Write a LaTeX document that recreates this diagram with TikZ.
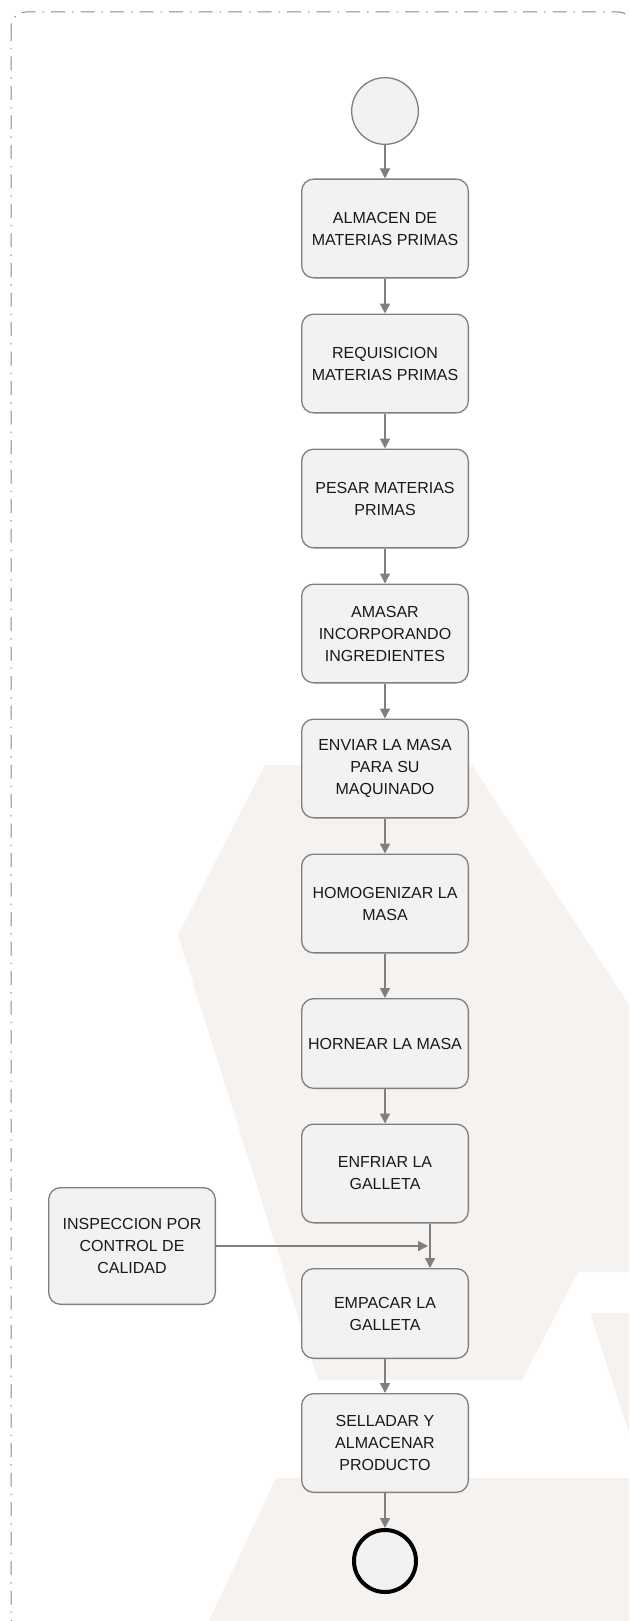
\documentclass[tikz,border=0pt]{standalone}
\usepackage{fontspec}
\setmainfont{Liberation Sans}
\usetikzlibrary{arrows.meta, positioning}

\definecolor{caja}{RGB}{242,242,242}
\definecolor{borde}{RGB}{127,127,127}
\definecolor{marco}{RGB}{135,135,135}
\definecolor{marca}{RGB}{245,242,239}

\begin{document}
\begin{tikzpicture}[
    x=1pt, y=1pt,
    node distance=135pt,
    every node/.style={font=\fontsize{16}{22}\selectfont, align=center, text=black!90},
    paso/.style={rectangle, rounded corners=12pt, draw=borde, line width=1.3pt, fill=caja, minimum width=166.7pt, minimum height=98.7pt, inner sep=2pt},
    estado/.style={circle, fill=caja, inner sep=0pt},
    arrow/.style={-{Triangle[width=10pt, length=10pt]}, draw=borde, line width=1.5pt}
]

\useasboundingbox (0,0) rectangle (629,-1621);
\clip (0,0) rectangle (629,-1621);

\fill[marca] (265,-765) -- (472,-765) -- (629,-1005) -- (629,-1272) -- (578,-1272) -- (522,-1380) -- (318,-1380) -- (178,-935) -- cycle;
\fill[marca] (276,-1478) -- (629,-1478) -- (629,-1621) -- (209,-1621) -- cycle;
\fill[marca] (590,-1313) -- (629,-1313) -- (629,-1433) -- cycle;

\draw[marco, line width=1pt, dash pattern=on 14pt off 7pt on 1.5pt off 7pt, rounded corners=15pt] (11,-12) rectangle (633,-1632);

\node (inicio) [estado, draw=borde, line width=1.3pt, minimum size=66.7pt] at (385,-111) {};
\node (almacen) [paso, node distance=117.5pt, below of=inicio] {ALMACEN DE\\MATERIAS PRIMAS};
\node (requisicion) [paso, below of=almacen] {REQUISICION\\MATERIAS PRIMAS};
\node (pesar) [paso, below of=requisicion] {PESAR MATERIAS\\PRIMAS};
\node (amasar) [paso, below of=pesar] {AMASAR\\INCORPORANDO\\INGREDIENTES};
\node (enviar) [paso, below of=amasar] {ENVIAR LA MASA\\PARA SU\\MAQUINADO};
\node (homogenizar) [paso, below of=enviar] {HOMOGENIZAR LA\\MASA};
\node (hornear) [paso, node distance=140pt, below of=homogenizar, minimum height=89.7pt] {HORNEAR LA MASA};
\node (enfriar) [paso, node distance=130pt, below of=hornear] {ENFRIAR LA\\GALLETA};
\node (empacar) [paso, node distance=140pt, below of=enfriar, minimum height=89.7pt] {EMPACAR LA\\GALLETA};
\node (sellar) [paso, node distance=129.5pt, below of=empacar] {SELLADAR Y\\ALMACENAR\\PRODUCTO};
\node (fin) [estado, draw=black, line width=4pt, minimum size=62pt, node distance=118pt, below of=sellar] {};
\node (inspeccion) [paso, minimum height=116.7pt] at (132,-1246) {INSPECCION POR\\CONTROL DE\\CALIDAD};

\coordinate[xshift=43pt] (union) at (enfriar.south |- inspeccion.east);

\draw[arrow] (inicio) -- (almacen);
\draw[arrow] (almacen) -- (requisicion);
\draw[arrow] (requisicion) -- (pesar);
\draw[arrow] (pesar) -- (amasar);
\draw[arrow] (amasar) -- (enviar);
\draw[arrow] (enviar) -- (homogenizar);
\draw[arrow] (homogenizar) -- (hornear);
\draw[arrow] (hornear) -- (enfriar);
\draw[arrow] ([xshift=45pt]enfriar.south) -- ([xshift=45pt]empacar.north);
\draw[arrow, line width=1.1pt] (inspeccion) -- (union);
\draw[arrow] (empacar) -- (sellar);
\draw[arrow] (sellar) -- (fin);
\end{tikzpicture}
\end{document}
